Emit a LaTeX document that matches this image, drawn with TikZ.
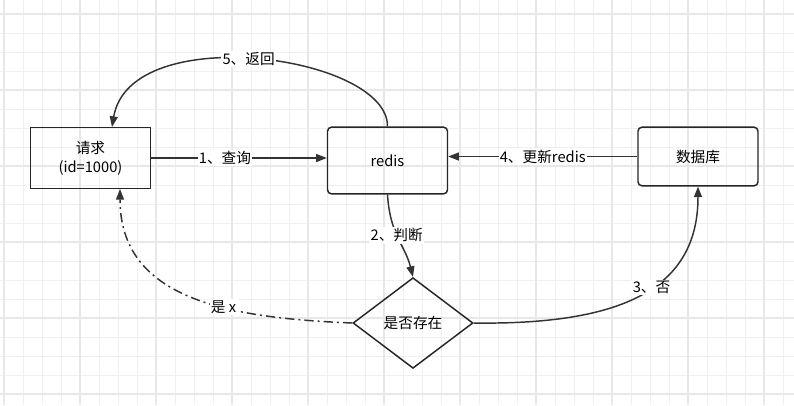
\documentclass[tikz,border=0pt]{standalone}
\usepackage{fontspec}
\setmainfont{Noto Sans CJK SC}
\usetikzlibrary{arrows.meta,shapes.geometric}
\begin{document}
\begin{tikzpicture}[x=0.75pt,y=-0.75pt,
  box/.style={draw=black!85,line width=1.1pt,minimum width=90pt,minimum height=46pt,align=center,font=\fontsize{11}{14}\selectfont},
  conn/.style={draw=black!80,line width=1.1pt,-{Triangle[length=8pt,width=6pt]}},
  lbl/.style={fill=white,inner sep=1pt,font=\fontsize{11}{14}\selectfont}]
\useasboundingbox (0,0) rectangle (794,405);
\fill[white] (0,0) rectangle (794,405);
\foreach \i in {0,...,42} \draw[black!6,line width=0.6pt] ({4+19*\i},0) -- ({4+19*\i},405);
\foreach \i in {0,...,21} \draw[black!6,line width=0.6pt] (0,{14+19*\i}) -- (794,{14+19*\i});
\foreach \i in {0,...,10} \draw[black!9,line width=1pt] ({4+76*\i},0) -- ({4+76*\i},405);
\foreach \i in {0,...,5} \draw[black!9,line width=1pt] (0,{14+76*\i}) -- (794,{14+76*\i});
\node[box] (req) at (90.5,158) {请求\\(id=1000)};
\node[box,rounded corners=3pt,minimum height=50pt] (redis) at (387.5,160.5) {redis};
\node[box,rounded corners=3pt,minimum height=44pt] (db) at (698,156.5) {数据库};
\node[diamond,draw=black!85,line width=1.1pt,minimum width=90pt,minimum height=68pt,inner sep=0pt,font=\fontsize{11}{14}\selectfont] (dec) at (413,323) {是否存在};
\coordinate (reqb) at (120,189);
\coordinate (reqt) at (112,127);
\draw[conn] (req.east) -- node[lbl,pos=0.42]{1、查询} (req.east -| redis.west);
\draw[conn] (db.west) -- node[lbl,pos=0.5]{4、更新redis} (db.west -| redis.east);
\draw[conn] (redis.north) .. controls (388,55) and (130,20) .. node[lbl,pos=0.52]{5、返回} (reqt);
\draw[conn] (redis.south) .. controls (390,235) and (405,245) .. node[lbl,pos=0.45]{2、判断} (dec.north);
\draw[conn] (dec.east) .. controls (620,325) and (698,290) .. node[lbl,pos=0.55]{3、否} (db.south);
\draw[conn,dash pattern=on 7pt off 3pt on 1.5pt off 3pt] (dec.west) .. controls (230,318) and (120,300) .. node[lbl,pos=0.38]{是 x} (reqb);
\end{tikzpicture}
\end{document}
